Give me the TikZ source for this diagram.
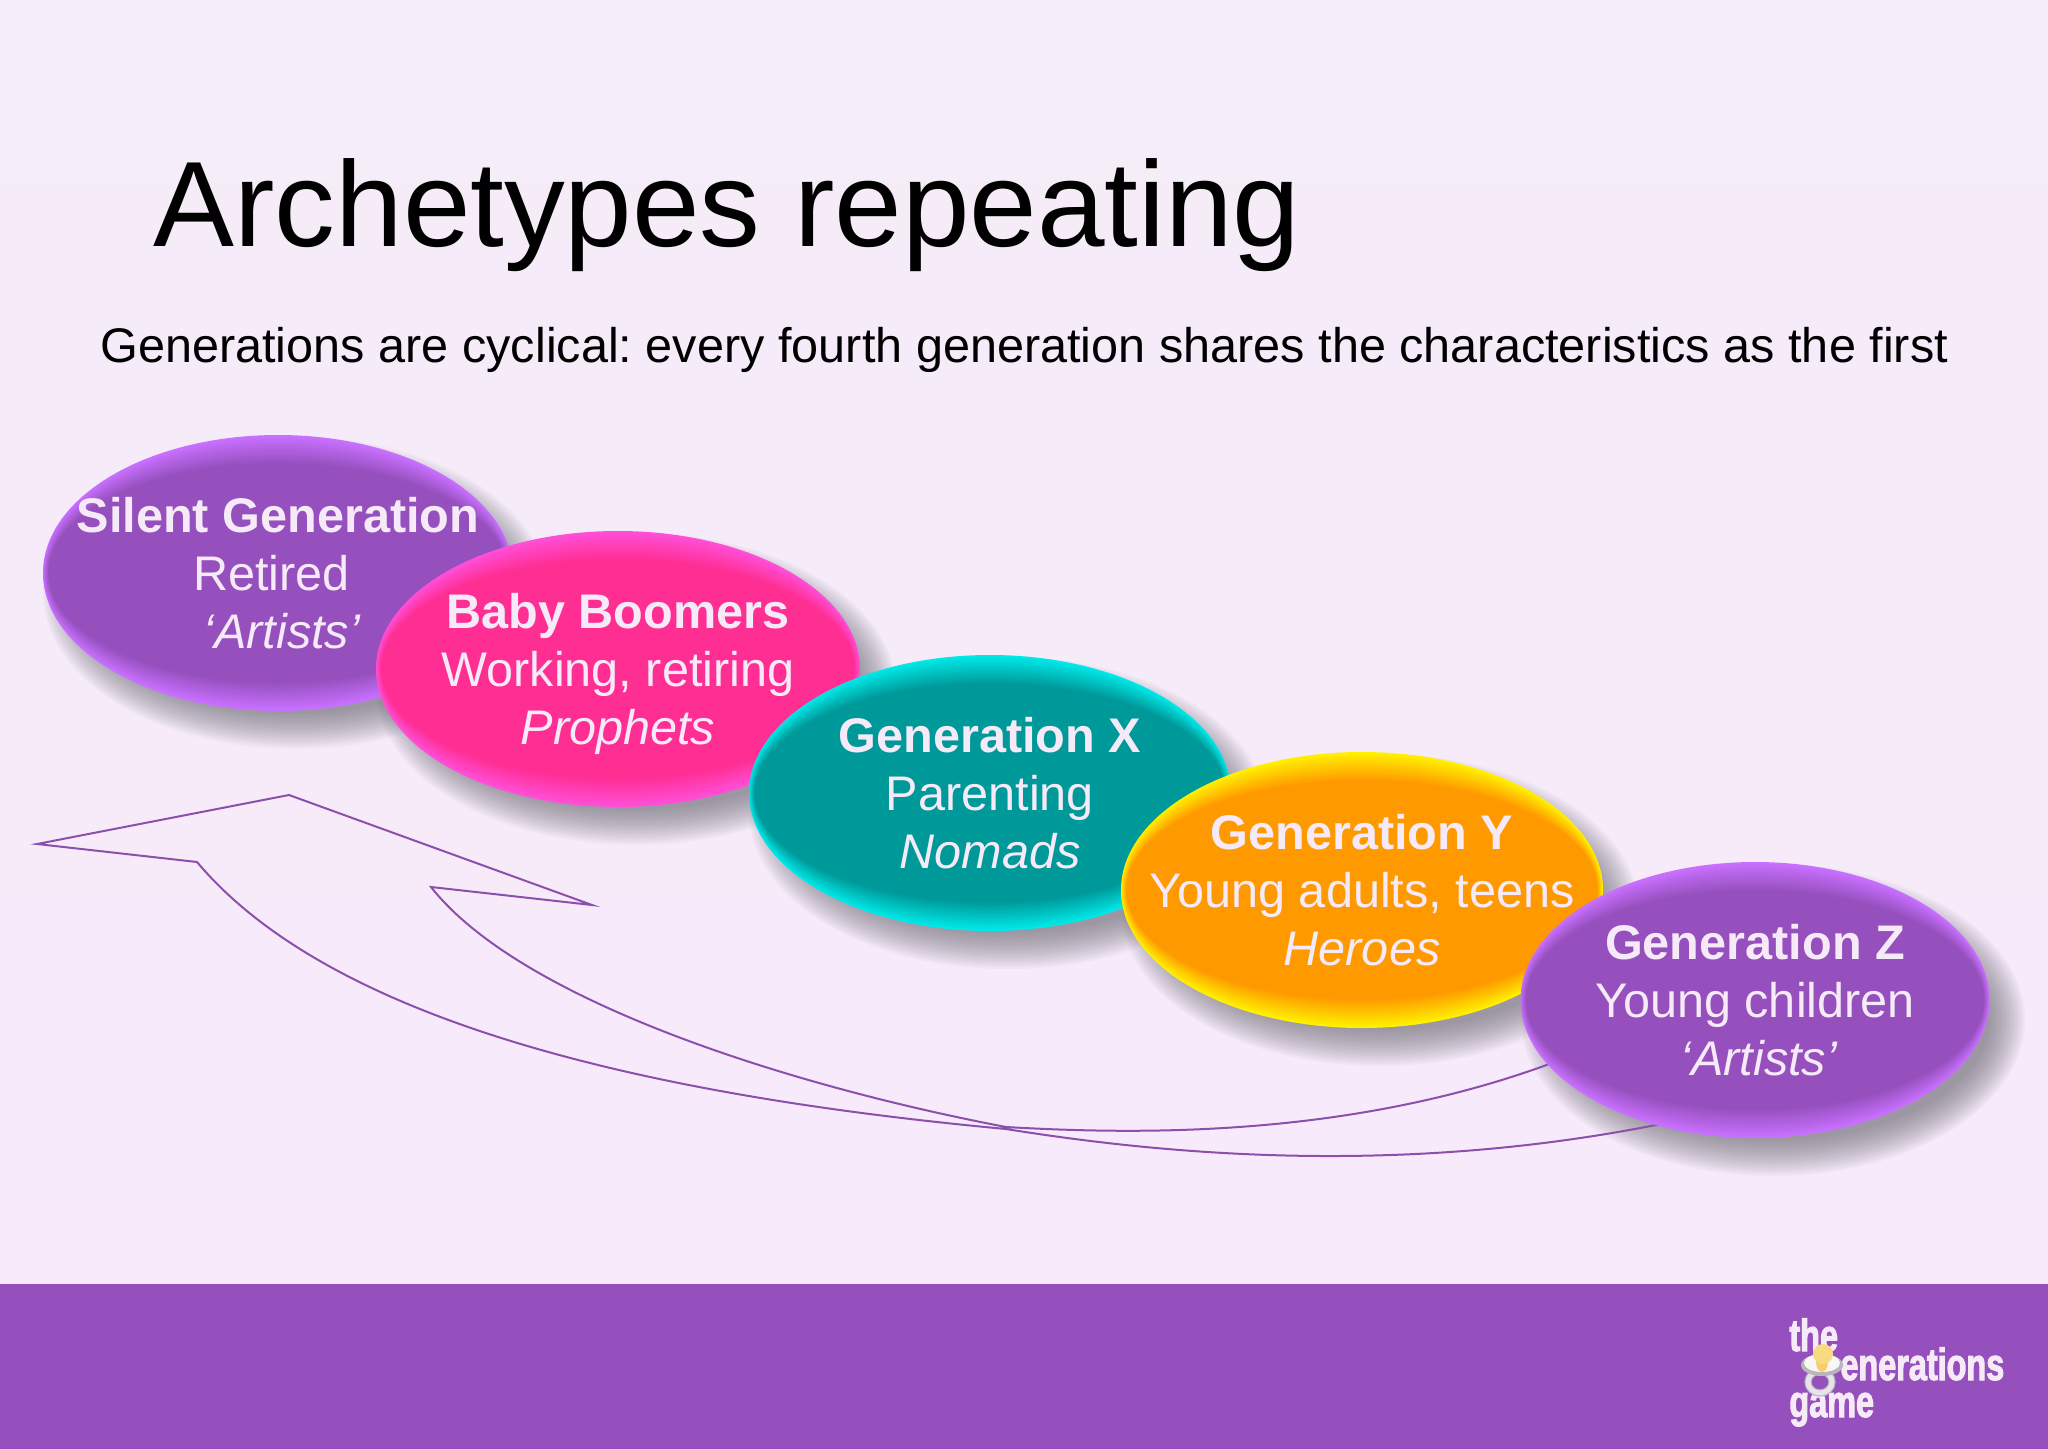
\documentclass[tikz,border=0pt]{standalone}
\usepackage{fontspec}
\setmainfont{Liberation Sans}
\newfontfamily\logofont[FakeStretch=0.72,FakeBold=2.2]{Liberation Sans Bold}
\usetikzlibrary{shapes.geometric}
\usetikzlibrary{positioning}
\definecolor{bandpurple}{HTML}{9650BD}
\definecolor{gentext}{HTML}{F6EAF8}
\definecolor{arrowline}{HTML}{8A50AC}
\definecolor{bgtop}{HTML}{F5EDF8}
\definecolor{bgbottom}{HTML}{F8E9FB}
\definecolor{blobshadow}{HTML}{62626A}
\definecolor{rimpurple}{HTML}{C870FF}
\definecolor{corepink}{HTML}{FF2E93}
\definecolor{rimpink}{HTML}{FF4FD8}
\definecolor{coreteal}{HTML}{009999}
\definecolor{rimteal}{HTML}{00E8E8}
\definecolor{coreorange}{HTML}{FF9900}
\definecolor{rimorange}{HTML}{FFF000}
\definecolor{knobyellow}{HTML}{F8DA80}
\definecolor{ringwhite}{HTML}{E6E4E8}
\tikzstyle{headline} = [anchor=base west, inner sep=0, text=black, font=\fontsize{60.7}{72}\selectfont]
\tikzstyle{subline} = [anchor=base west, inner sep=0, text=black, font=\fontsize{24.3}{29}\selectfont]
\tikzstyle{logotext} = [anchor=base west, inner sep=0, text=gentext, font=\logofont\fontsize{22.5}{27}\selectfont]
\tikzset{
  genblob/.style n args={3}{ellipse, inner xsep=-40pt, inner ysep=0, minimum width=#1*0.5pt, minimum height=138pt,
    align=center, text=gentext, text depth=0pt, font=\fontsize{24.3}{29}\selectfont, fill=#3,
    execute at begin node={\rule{0pt}{21pt}},
    path picture={
      \foreach \i [evaluate=\i as \pct using \i*100/14] in {1,...,14}
        \fill[#2!\pct!#3] (path picture bounding box.center) ellipse [x radius=#1/2-\i*0.4, y radius=138-\i*2];
    }}
}
\frenchspacing

\begin{document}
\begin{tikzpicture}[x=0.5pt,y=-0.5pt]
 \useasboundingbox (0,0) rectangle (2048,1449);
 \shade[top color=bgtop, bottom color=bgbottom] (0,0) rectangle (2048,1449);
 \fill[bandpurple] (0,1284) rectangle (2048,1449);

 % soft shadows first
 \foreach \cx/\cy/\rx in {278/573/235, 618/669/242, 990/793/241, 1362/890/241, 1755/1000/234}
  \foreach \s in {-18,-16,...,18}
   \fill[blobshadow, opacity=0.042] (\cx+18,\cy+20) ellipse [x radius=\rx-\s, y radius=138-\s];

 \node (title) [headline] at (153,247) {Archetypes repeating};
 \node (subtitle) [subline] at (100,363) {Generations are cyclical: every fourth generation shares the characteristics as the first};

 % block arrow, its two ends go under Generation Z
 \coordinate (tipleft) at (37,844);
 \coordinate (apex) at (289,795);
 \coordinate (tipright) at (592,905);
 \coordinate (notchinner) at (431,887);
 \coordinate (notchouter) at (197,862);
 \coordinate (zlow) at (1680,1120);
 \coordinate (zhigh) at (1560,1060);
 \coordinate (kinkouter) at (1006,1129);
 \coordinate (kinkinner) at (1006,1127);
 \draw[arrowline, line width=1pt, line join=miter] (zlow)
   .. controls (1400,1180) and (1150,1152) .. (kinkouter)
   .. controls (640,1095) and (330,1020) .. (notchouter)
   -- (tipleft) -- (apex) -- (tipright) -- (notchinner)
   .. controls (520,1000) and (786,1085) .. (kinkinner)
   .. controls (1130,1134) and (1350,1140) .. (zhigh);

 \node (silent) [genblob={470}{bandpurple}{rimpurple}] at (278,573) {
  \textbf{Silent Generation}\\Retired\hspace{6.6pt}\mbox{}\\\hspace*{4pt}\textit{`Artists'}};
 \node (boomers) [genblob={484}{corepink}{rimpink}] at (618,669) {
  \textbf{Baby Boomers}\\Working, retiring\\\textit{Prophets}};
 \node (genx) [genblob={482}{coreteal}{rimteal}] at (990,793) {
  \textbf{Generation X}\\Parenting\\\textit{Nomads}};
 \node (geny) [genblob={482}{coreorange}{rimorange}] at (1362,890) {
  \textbf{Generation Y}\\Young adults, teens\\\textit{Heroes}};
 \node (genz) [genblob={469}{bandpurple}{rimpurple}] at (1755,1000) {
  \textbf{Generation Z}\\Young children\\\hspace*{4pt}\textit{`Artists'}};

 % logo
 \node (logothe) [logotext] at (1789,1351) {the};
 \node (logogen) [logotext] at (1840,1380) {enerations};
 \node (logogame) [logotext] at (1789,1417) {game};
 \draw[ringwhite!80!black, line width=3.6pt] (1820,1382) ellipse [x radius=12, y radius=11];
 \draw[ringwhite, line width=2.4pt] (1820,1382) ellipse [x radius=12, y radius=11];
 \fill[ringwhite!80!black] (1822,1365) ellipse [x radius=21, y radius=11];
 \fill[white!94!gray] (1822,1363) ellipse [x radius=18, y radius=9];
 \fill[knobyellow!85!orange] (1822,1362) ellipse [x radius=6, y radius=10];
 \fill[knobyellow] (1823,1354) circle [radius=10];
\end{tikzpicture}
\end{document}
